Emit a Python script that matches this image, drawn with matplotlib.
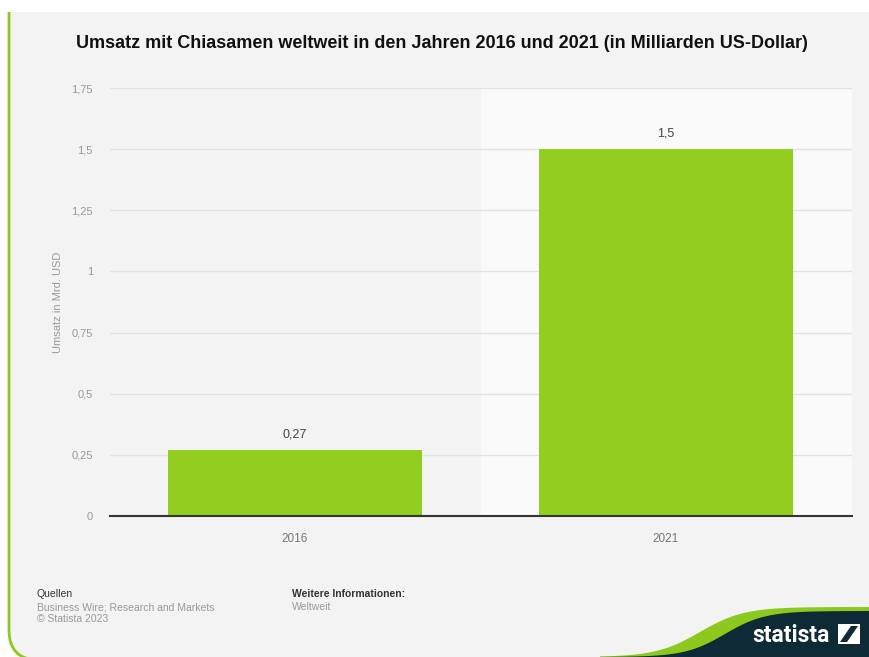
import numpy as np
import matplotlib
matplotlib.use('Agg')
import matplotlib.pyplot as plt
from matplotlib.patches import FancyBboxPatch, Rectangle, Polygon

plt.rcParams['font.family'] = ['Liberation Sans', 'DejaVu Sans']

# data
years = ['2016', '2021']
umsatz = [0.27, 1.5]
value_labels = ['0,27', '1,5']
y_ticks = [0, 0.25, 0.5, 0.75, 1, 1.25, 1.5, 1.75]
y_tick_labels = ['0', '0,25', '0,5', '0,75', '1', '1,25', '1,5', '1,75']

W, H = 870, 657
fig = plt.figure(figsize=(W / 100, H / 100), dpi=100, facecolor='white')

# background card (pixel coords, y downwards)
bg = fig.add_axes([0, 0, 1, 1], zorder=0)
bg.set_xlim(0, W)
bg.set_ylim(H, 0)
bg.axis('off')
card = FancyBboxPatch((9, -40), 920, 40 + 660, boxstyle='round,pad=0,rounding_size=30',
                      facecolor='#f3f3f3', edgecolor='#8cc81e', linewidth=2)
bg.add_patch(card)
bg.add_patch(Rectangle((0, 0), W, 12, facecolor='white', edgecolor='none'))

# statista logo
xs = np.linspace(600, 870, 200)
top_green = 657 - 50 / (1 + np.exp(-(xs - 700) / 22))
top_dark = 657 - 46 / (1 + np.exp(-(xs - 725) / 20))
bg.add_patch(Polygon(np.column_stack([np.r_[xs, 870, 600], np.r_[top_green, 660, 660]]),
                     closed=True, facecolor='#8cc81e', edgecolor='none'))
bg.add_patch(Polygon(np.column_stack([np.r_[xs, 870, 600], np.r_[top_dark, 660, 660]]),
                     closed=True, facecolor='#0e2a36', edgecolor='none'))
bg.text(791, 635, 'statista', color='white', fontsize=16.5, fontweight='bold',
        family='Roboto', ha='center', va='center')
bg.add_patch(Rectangle((838, 624), 22, 20, facecolor='white', edgecolor='none'))
bg.add_patch(Polygon([[840, 642], [847, 642], [858, 626], [851, 626]], closed=True,
                     facecolor='#0e2a36', edgecolor='none'))

# title
bg.text(442, 44, 'Umsatz mit Chiasamen weltweit in den Jahren 2016 und 2021 (in Milliarden US-Dollar)',
        ha='center', va='center', fontsize=13, fontweight='bold', color='#111111')

# footer
bg.text(37, 594, 'Quellen', fontsize=7.5, color='#333333', va='center')
bg.text(37, 607, 'Business Wire; Research and Markets', fontsize=7.5, color='#999999', va='center')
bg.text(37, 619, '© Statista 2023', fontsize=7.5, color='#999999', va='center')
bg.text(292, 594, 'Weitere Informationen:', fontsize=7.5, fontweight='bold', color='#333333', va='center')
bg.text(292, 607, 'Weltweit', fontsize=7.5, color='#999999', va='center')

# chart
ax = fig.add_axes([0.1259, 0.2146, 0.8529, 0.6514], zorder=1)
ax.set_facecolor('none')
x = np.arange(len(years))
ax.axvspan(0.5, 1.5, color='#fafafa', zorder=0)
ax.bar(x, umsatz, width=0.685, color='#93cd20', zorder=2)
for xi, v, lab in zip(x, umsatz, value_labels):
    ax.annotate(lab, xy=(xi, v), xytext=(0, 7), textcoords='offset points',
                ha='center', va='bottom', fontsize=9, color='#444444')

ax.set_xlim(-0.5, 1.5)
ax.set_ylim(0, 1.75)
ax.set_yticks(y_ticks)
ax.set_yticklabels(y_tick_labels)
ax.set_xticks(x)
ax.set_xticklabels(years)
ax.tick_params(axis='both', length=0, labelsize=8, labelcolor='#999999')
ax.tick_params(axis='y', pad=12)
ax.tick_params(axis='x', pad=12, labelsize=8.5, labelcolor='#777777')
ax.grid(axis='y', color='#e2e2e2', linewidth=1, zorder=1)
ax.set_axisbelow(True)
for s in ['top', 'right', 'left']:
    ax.spines[s].set_visible(False)
ax.spines['bottom'].set_color('#333333')
ax.spines['bottom'].set_linewidth(1.5)
ax.spines['bottom'].set_zorder(3)
ax.set_ylabel('Umsatz in Mrd. USD', fontsize=8, color='#999999', labelpad=6)

fig.savefig('out.png', dpi=100, facecolor=fig.get_facecolor())
